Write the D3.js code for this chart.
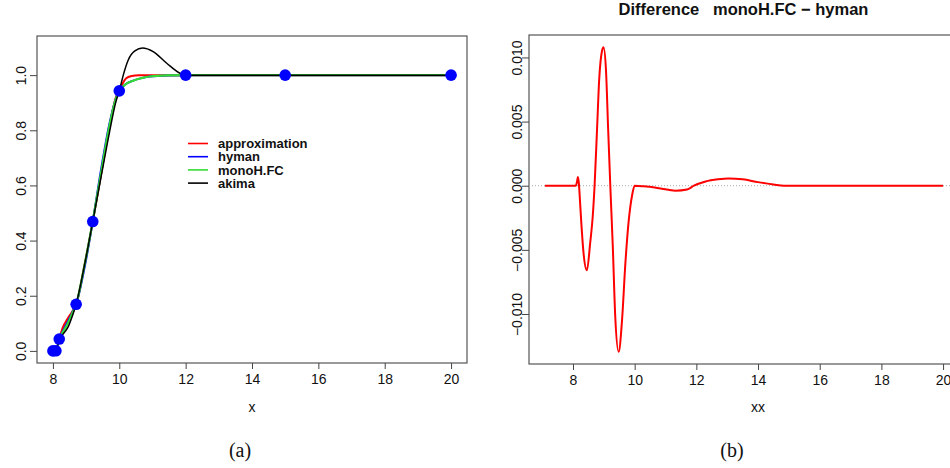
<!DOCTYPE html>
<html><head><meta charset="utf-8">
<script src="https://cdn.jsdelivr.net/npm/d3@7"></script>
<style>
body{margin:0;background:#fff;}
svg{display:block;}
text{font-family:"Liberation Sans",Arial,sans-serif;}
</style></head>
<body>
<svg id="c" width="950" height="468"></svg>
<script>
// ---- data ----
const knotX = [8.0, 8.09, 8.19, 8.7, 9.2, 10, 12, 15, 20];
const knotY = [0, 0.0003, 0.043, 0.169, 0.469, 0.943, 1, 1, 1];

const approxX = [8.0, 8.09, 8.19, 8.3, 8.45, 8.58, 8.7, 8.95, 9.2, 9.45, 9.7, 9.9, 10, 10.1, 10.2, 10.37, 10.6, 12, 15, 20];
const approxY = [0, 0.0003, 0.043, 0.085, 0.118, 0.142, 0.169, 0.31, 0.469, 0.64, 0.81, 0.92, 0.943, 0.97, 0.988, 0.997, 1.0, 1, 1, 1];

const monoX  = [8.0, 8.09, 8.19, 8.3, 8.45, 8.58, 8.7, 8.95, 9.2, 9.45, 9.7, 9.9, 10, 10.17, 10.42, 10.7, 10.92, 11.43, 12, 15, 20];
const monoY  = [0, 0.0003, 0.043, 0.068, 0.10, 0.135, 0.169, 0.31, 0.469, 0.645, 0.815, 0.915, 0.943, 0.965, 0.980, 0.990, 0.995, 0.999, 1, 1, 1];
const hymanY = [0, 0.0003, 0.043, 0.072, 0.107, 0.138, 0.169, 0.30, 0.469, 0.657, 0.822, 0.916, 0.943, 0.965, 0.980, 0.990, 0.995, 0.999, 1, 1, 1];

const akimaX = [8.0, 8.09, 8.19, 8.3, 8.45, 8.58, 8.7, 8.95, 9.2, 9.45, 9.7, 9.9, 10, 10.12, 10.27, 10.47, 10.7, 11.02, 11.43, 11.83, 12, 15, 20];
const akimaY = [0, 0.0003, 0.043, 0.06, 0.085, 0.125, 0.169, 0.31, 0.469, 0.63, 0.79, 0.905, 0.943, 1.0, 1.055, 1.088, 1.098, 1.085, 1.043, 1.007, 1.0, 1, 1];

const diffX = [7.09, 8.09, 8.13, 8.16, 8.19, 8.22, 8.27, 8.34, 8.45, 8.56, 8.64, 8.70, 8.78, 8.85, 8.94, 8.99, 9.07, 9.14, 9.21, 9.29, 9.37, 9.48, 9.59, 9.70, 9.80, 9.92, 10.0, 10.3, 10.8, 11.32, 11.7, 11.92, 12.3, 12.7, 13.05, 13.5, 14.0, 14.5, 14.84, 20];
const diffY = [0, 0, 0.0003, 0.00068, 0.0002, -0.0009, -0.0029, -0.0052, -0.0066, -0.0044, -0.0024, 0, 0.0044, 0.0083, 0.0105, 0.0108, 0.0090, 0.0044, 0, -0.0047, -0.0102, -0.01295, -0.0105, -0.006, -0.0029, -0.0007, 0, -0.00005, -0.0002, -0.00039, -0.0003, 0, 0.00033, 0.0005, 0.00057, 0.0005, 0.00028, 0.0001, 0, 0];

const seriesNames = ["approximation", "hyman", "monoH.FC", "akima"];
const seriesColors = ["#ff0000", "#0000ff", "#33dd33", "#000000"];
const xTicks = [8, 10, 12, 14, 16, 18, 20];
const yTicksA = [0, 0.2, 0.4, 0.6, 0.8, 1.0];
const yTicksB = [-0.010, -0.005, 0.000, 0.005, 0.010];
const titleB = "Difference   monoH.FC \u2212 hyman";

// ---- helpers ----
const svg = d3.select("#c");
const pad = (ext) => { const d = (ext[1] - ext[0]) * 0.04; return [ext[0] - d, ext[1] + d]; };
const zip = (xs, ys) => xs.map((x, i) => [x, ys[i]]);

function panel(g, x, y, xt, yt, yfmt, xlab, yLabShift) {
  g.append("rect").attr("x", x.range()[0]).attr("y", y.range()[1])
    .attr("width", x.range()[1] - x.range()[0]).attr("height", y.range()[0] - y.range()[1])
    .attr("fill", "none").attr("stroke", "#555").attr("stroke-width", 1.2);
  const gx = g.append("g").attr("transform", `translate(0,${y.range()[0]})`)
    .call(d3.axisBottom(x).tickValues(xt).tickSize(6).tickPadding(5).tickFormat(d3.format("d")));
  gx.select(".domain").remove();
  gx.selectAll("line").attr("stroke", "#444");
  gx.selectAll("text").attr("font-size", 14).attr("fill", "#111").attr("dy", "0.72em");
  const gy = g.append("g").attr("transform", `translate(${x.range()[0]},0)`)
    .call(d3.axisLeft(y).tickValues(yt).tickSize(7).tickFormat(yfmt));
  gy.select(".domain").remove();
  gy.selectAll("line").attr("stroke", "#444");
  gy.selectAll("text").attr("font-size", 14).attr("fill", "#111")
    .attr("text-anchor", "middle").attr("x", 0).attr("dy", 0)
    .attr("transform", `translate(${yLabShift},0) rotate(-90)`);
  g.append("text").attr("x", (x(8) + x(20)) / 2).attr("y", 412)
    .attr("text-anchor", "middle").attr("font-size", 14).attr("fill", "#111").text(xlab);
}

// ---- panel (a) ----
const xA = d3.scaleLinear().domain(pad(d3.extent(knotX))).range([37, 467]);
const yA = d3.scaleLinear().domain(pad([0, d3.max(akimaY)])).range([363, 36]);
const gA = svg.append("g");
panel(gA, xA, yA, xTicks, yTicksA, d3.format(".1f"), "x", -11);

const lineA = d3.line().x(d => xA(d[0])).y(d => yA(d[1])).curve(d3.curveMonotoneX);
const curves = [zip(approxX, approxY), zip(monoX, hymanY), zip(monoX, monoY), zip(akimaX, akimaY)];
const widths = [2, 2, 2.2, 1.5];
curves.forEach((c, i) => {
  gA.append("path").datum(c).attr("d", lineA).attr("fill", "none")
    .attr("stroke", seriesColors[i]).attr("stroke-width", widths[i]).attr("stroke-linejoin", "round");
});
gA.selectAll("circle.pt").data(zip(knotX, knotY)).join("circle")
  .attr("cx", d => xA(d[0])).attr("cy", d => yA(d[1])).attr("r", 5.8).attr("fill", "#0000ff");

// legend
const lg = gA.append("g");
seriesNames.forEach((n, i) => {
  const yy = 143.5 + i * 13.2;
  lg.append("line").attr("x1", 188).attr("x2", 208).attr("y1", yy).attr("y2", yy)
    .attr("stroke", seriesColors[i]).attr("stroke-width", 1.6);
  lg.append("text").attr("x", 218).attr("y", yy).attr("dy", "0.36em")
    .attr("font-size", 13).attr("font-weight", "bold").attr("fill", "#111").text(n);
});

// ---- panel (b) ----
const xB = d3.scaleLinear().domain(pad(d3.extent(diffX))).range([529, 959]);
const yB = d3.scaleLinear().domain(pad(d3.extent(diffY))).range([364, 35]);
const gB = svg.append("g");
panel(gB, xB, yB, xTicks, yTicksB, d3.format(".3f"), "xx", -7);
gB.append("line").attr("x1", xB.range()[0]).attr("x2", xB.range()[1])
  .attr("y1", yB(0)).attr("y2", yB(0)).attr("stroke", "#aaa").attr("stroke-width", 1)
  .attr("stroke-dasharray", "1,2");
const lineB = d3.line().x(d => xB(d[0])).y(d => yB(d[1])).curve(d3.curveMonotoneX);
gB.append("path").datum(zip(diffX, diffY)).attr("d", lineB).attr("fill", "none")
  .attr("stroke", "#ff0000").attr("stroke-width", 2).attr("stroke-linejoin", "round");
gB.append("text").attr("x", 743.5).attr("y", 15).attr("text-anchor", "middle")
  .attr("font-size", 16.5).attr("font-weight", "bold").attr("fill", "#111")
  .style("white-space", "pre").text(titleB);

// captions
svg.append("text").attr("x", 240).attr("y", 457).attr("text-anchor", "middle")
  .style("font-family", "'Liberation Serif', serif")
  .attr("font-size", 20).attr("fill", "#111").text("(a)");
svg.append("text").attr("x", 732).attr("y", 457).attr("text-anchor", "middle")
  .style("font-family", "'Liberation Serif', serif")
  .attr("font-size", 20).attr("fill", "#111").text("(b)");
</script>
</body></html>
